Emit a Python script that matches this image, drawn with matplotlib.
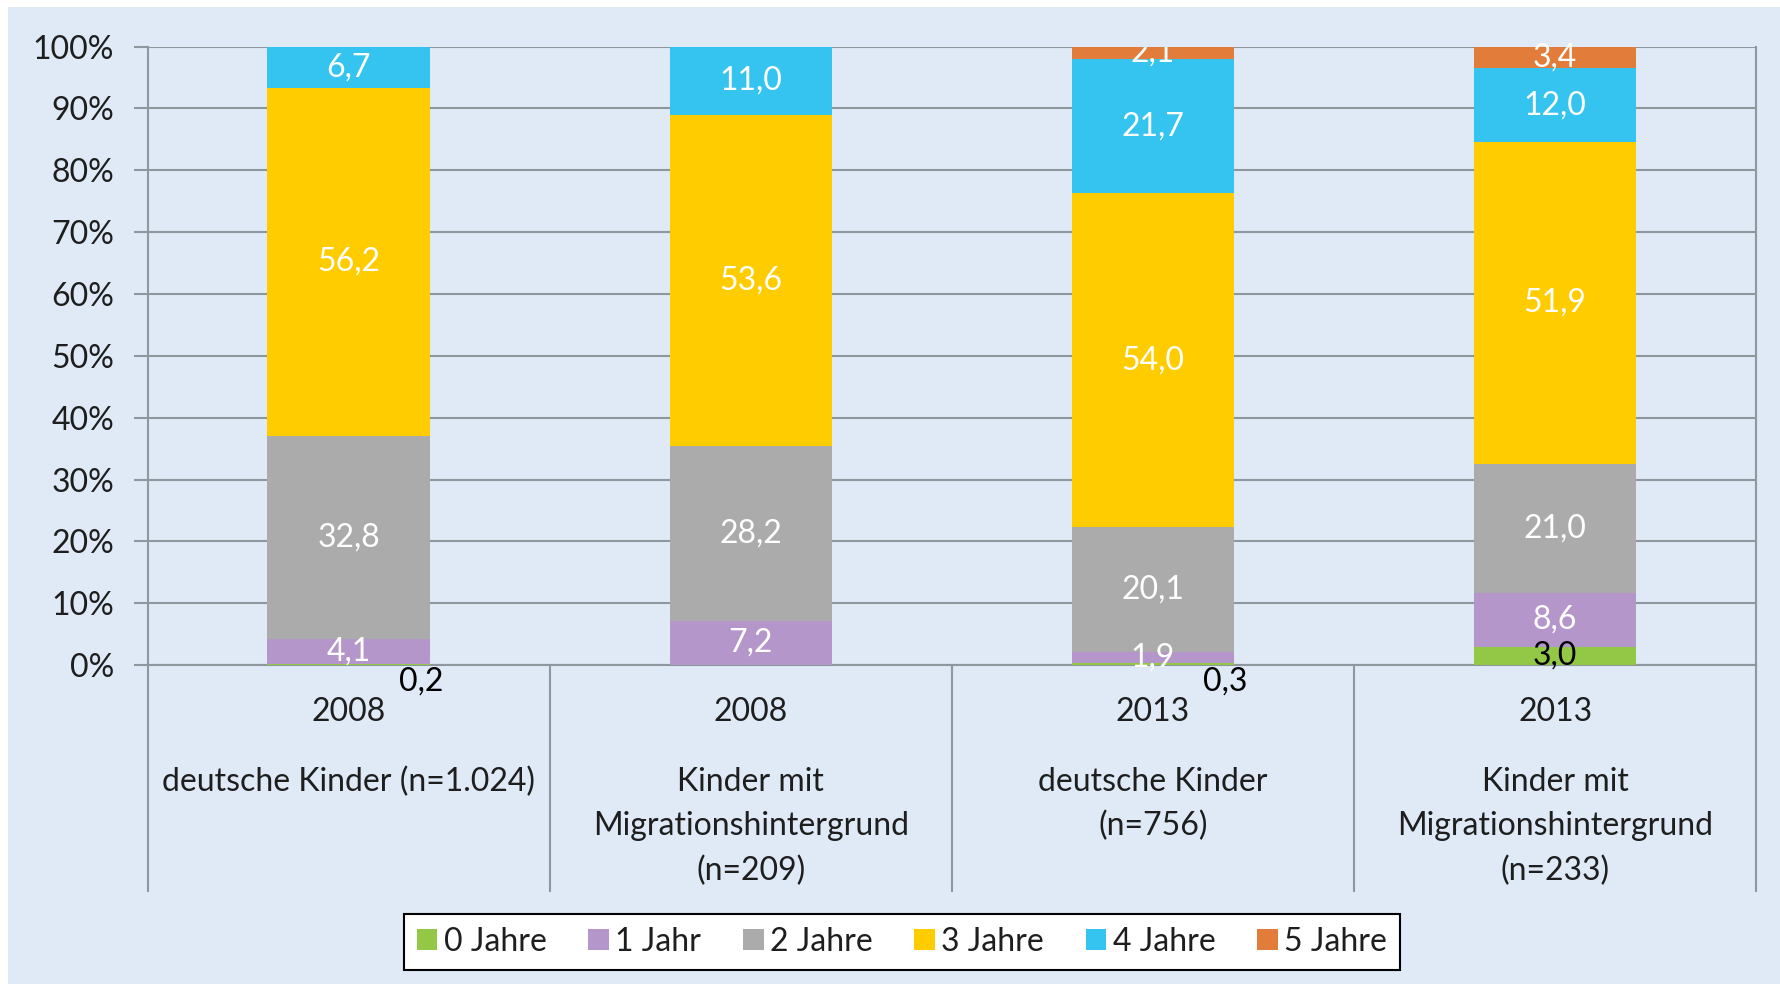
import matplotlib.pyplot as plt
import numpy as np
from matplotlib.patches import Rectangle

plt.rcParams['font.family'] = ['Lato', 'DejaVu Sans']

# daten
jahre = ['2008', '2008', '2013', '2013']
gruppen = ['deutsche Kinder (n=1.024)',
           'Kinder mit\nMigrationshintergrund\n(n=209)',
           'deutsche Kinder\n(n=756)',
           'Kinder mit\nMigrationshintergrund\n(n=233)']
serien = ['0 Jahre', '1 Jahr', '2 Jahre', '3 Jahre', '4 Jahre', '5 Jahre']
j0 = [0.2, 0.0, 0.3, 3.0]
j1 = [4.1, 7.2, 1.9, 8.6]
j2 = [32.8, 28.2, 20.1, 21.0]
j3 = [56.2, 53.6, 54.0, 51.9]
j4 = [6.7, 11.0, 21.7, 12.0]
j5 = [0.0, 0.0, 2.1, 3.4]
werte = [j0, j1, j2, j3, j4, j5]
farben = ['#92C846', '#B596CB', '#ABABAB', '#FFCC00', '#35C3F0', '#E27C3B']
bg = '#DFEAF6'
txt = '#1E1E1E'
grid_c = '#8E969E'
fs = 23

fig = plt.figure(figsize=(17.8, 9.84), dpi=100, facecolor='white')
fig.patches.append(Rectangle((8 / 1780, 0), 1, 1 - 7 / 984, transform=fig.transFigure,
                             facecolor=bg, edgecolor='none', zorder=-10))
ax = fig.add_axes([0.0829, 0.324, 0.9037, 0.6287])
ax.set_facecolor('none')

x = np.arange(len(jahre))
breite = 0.404
unten = np.zeros(len(jahre))
for name, vals, col in zip(serien, werte, farben):
    vals = np.array(vals)
    ax.bar(x, vals, breite, bottom=unten, color=col, label=name, zorder=3)
    for i, v in enumerate(vals):
        if v <= 0:
            continue
        mitte = unten[i] + v / 2
        if v < 0.5:
            # kleine werte neben dem balken
            ax.text(x[i] + 0.18, -2.6, f'{v:.1f}'.replace('.', ','), ha='center', va='center',
                    fontsize=fs, color='black', clip_on=False, zorder=5)
        else:
            c = 'black' if name == '0 Jahre' else 'white'
            ax.text(x[i], mitte, f'{v:.1f}'.replace('.', ','), ha='center', va='center',
                    fontsize=fs, color=c, clip_on=(mitte > 98.5), zorder=5)
    unten += vals

ax.set_xlim(-0.5, len(jahre) - 0.5)
ax.set_ylim(0, 100)
ax.set_yticks(np.arange(0, 101, 10))
ax.set_yticklabels([f'{t}%' for t in range(0, 101, 10)], fontsize=fs, color=txt)
ax.yaxis.grid(True, color=grid_c, linewidth=1.5, zorder=0)
ax.tick_params(axis='y', length=10, width=1.5, color=grid_c, pad=14)
ax.tick_params(axis='x', length=0)
ax.set_xticks([])
ax.spines['top'].set_visible(False)
for s in ['left', 'right', 'bottom']:
    ax.spines[s].set_color(grid_c)
    ax.spines[s].set_linewidth(1.5)

# trennlinien unter der achse
for b in np.arange(-0.5, len(jahre), 1.0):
    ax.plot([b, b], [0, -36.5], color=grid_c, linewidth=1.5, clip_on=False, zorder=1)

# kategorien
for i, (j, g) in enumerate(zip(jahre, gruppen)):
    ax.text(x[i], -7.5, j, ha='center', va='center', fontsize=fs, color=txt, clip_on=False)
    for k, zeile in enumerate(g.split('\n')):
        ax.text(x[i], -18.9 - k * 7.15, zeile, ha='center', va='center', fontsize=fs,
                color=txt, clip_on=False)

leg = fig.legend(loc='center', bbox_to_anchor=(0.5067, 0.0427), ncol=6, fontsize=fs,
                 frameon=True, fancybox=False, edgecolor='black', facecolor='white',
                 handlelength=0.65, handleheight=0.65, handletextpad=0.2,
                 columnspacing=1.3, borderpad=0.4)
leg.get_frame().set_linewidth(1.5)
leg.get_frame().set_alpha(1)
for t in leg.get_texts():
    t.set_color(txt)

fig.savefig('out.png', dpi=100, facecolor=fig.get_facecolor())
